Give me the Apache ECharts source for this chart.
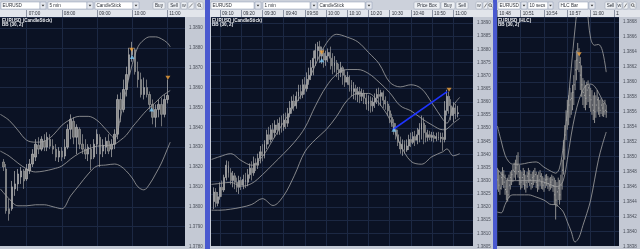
<!DOCTYPE html>
<html><head><meta charset="utf-8">
<script src="https://cdn.jsdelivr.net/npm/echarts@6/dist/echarts.min.js"></script>
<style>html,body{margin:0;padding:0;background:#c9ced8;overflow:hidden}#c{width:640px;height:249px}</style>
</head><body><div id="c"></div>
<script>
// ---------------- DATA (prices are given in pips above 1.3800) ----------------
const BASE = 1.38, PIP = 0.0001;

// tick labels of the three time axes
const leftTimeTicks  = ['07:00','08:00','09:00','10:00','11:00'];
const midTimeTicks   = ['09:10','09:20','09:30','09:40','09:50','10:00','10:10','10:20','10:30','10:40','10:50','11:00'];
const rightTimeTicks = ['10:48','10:51','10:54','10:57','11:00','11:03'];

// LEFT: EURUSD 5 min candlesticks, first bar 06:20
const leftFirstBar = '06:20', leftBarMinutes = 5;
const leftOpen  = [22.5,19,-1,-1,9,11.5,15,18,14,18,21.5,25,31,29,33,30,34,30.5,29,25,28,25.5,30,39,43,35,39,31.5,29,26.5,29,25,31.5,35,28,30,33,29,31.5,36.5,54,49,59,66.5,76.5,79,68,64,56.5,60,56.5,51.5,45,49,51.5,46.5,54];
const leftClose = [20,-2,-3.5,10,11.5,16.5,18,13,19,21.5,26.5,31.5,29,34,30,35,30.5,29,25,28,25,30,39,44,35,40,31.5,29,26.5,30,24,31.5,36.5,26.5,31,33,28,31.5,36.5,54,49,59,66.5,76.5,79,68,64,56.5,60,56.5,51.5,45,49,51.5,46.5,54,56];
const leftHigh  = [24,21.5,4,13,18,19,20,19,21.5,24,29,34,35,35.5,36.5,37.5,36.5,34,31.5,30,30,34,41.5,46.5,45,41.5,40,36.5,34,31.5,31.5,34,39,36.5,34,35,36.5,34,39,56.5,57.5,64,70.5,80,83,80,73,67.5,65,64,58,54,51.5,54,55,56.5,64];
const leftLow   = [18,-3.5,-7,-2,5.5,8,11.5,9,13,16.5,20,23,26.5,28,28,28,29,26.5,23,22.5,23,24,29,34,31.5,26.5,29,26.5,24,23,18.5,24,26.5,20,25,26.5,26.5,25,29,34,42.5,47.5,55.5,64,73,66.5,60,55,54,55,49,41.5,40,45,40.5,45,52];
const leftBandTimes = ['06:15','06:30','06:45','07:00','07:15','07:30','07:45','08:00','08:15','08:30','08:45','09:00','09:15','09:30','09:40','09:50','10:00','10:10','10:20','10:30','10:40','10:50','11:00','11:05'];
const leftUpper  = [46.5,43.5,38.5,33.5,32.5,33,36,41,44,45.5,45.5,43.5,39,34.5,45,59,71.5,80.5,84,85.5,85.5,84.5,82.5,80.5];
const leftMiddle = [28,25.5,22,19,17.5,18,19,20.5,24,27,29,30.5,30.8,31.5,33.5,36,40,43.5,47,50,52.5,55.5,57.5,58.5];
const leftLower  = [9,4,0.5,0.5,1,1,0,-1,5.5,11,16.5,20.5,21,21.5,20.5,18,14.5,10,8.5,11.5,16.5,22,29,32.5];
const leftSellMarks = [['09:59',79.0],['11:01',64.9]];
const leftBuyMarks  = [['10:00',75.4],['10:33',49.0]];

// MIDDLE: EURUSD 1 min candlesticks, first bar 09:07
const midFirstBar = '09:07', midBarMinutes = 1;
const midOpen  = [22.1,25.7,21.4,23.9,27.5,26.5,31.2,35.9,33.0,30.1,31.9,29.4,27.5,30.1,28.3,30.5,29.4,32.3,34.8,33.0,36.6,35.9,38.5,41.0,39.5,43.9,47.5,45.7,49.4,48.3,51.2,49.4,51.9,50.5,53.0,51.9,55.5,57.7,60.3,58.5,62.1,63.9,62.8,66.5,65.0,68.6,70.1,73.0,76.6,79.5,81.0,77.4,78.5,75.9,77.4,78.8,76.6,73.7,74.8,72.3,71.2,73.0,70.1,67.5,69.4,66.5,63.9,65.0,62.8,63.9,62.1,63.2,61.4,59.2,60.3,58.5,59.9,61.4,62.8,62.1,63.5,60.6,59.2,56.6,54.1,51.9,49.4,47.5,44.6,42.1,43.9,41.7,43.2,45.7,44.6,46.8,45.4,47.5,49.4,51.9,48.3,46.5,47.5,46.5,47.2,46.1,46.8,46.1,46.5,45.7,56.6,62.1,58.5,54.8,57.7,55.5];
const midClose = [25.7,21.4,23.9,27.5,26.5,31.2,35.9,33.0,30.1,31.9,29.4,27.5,30.1,28.3,30.5,29.4,32.3,34.8,33.0,36.6,35.9,38.5,41.0,39.5,43.9,47.5,45.7,49.4,48.3,51.2,49.4,51.9,50.5,53.0,51.9,55.5,57.7,60.3,58.5,62.1,63.9,62.8,66.5,65.0,68.6,70.1,73.0,76.6,79.5,81.0,77.4,78.5,75.9,77.4,78.8,76.6,73.7,74.8,72.3,71.2,73.0,70.1,67.5,69.4,66.5,63.9,65.0,62.8,63.9,62.1,63.2,61.4,59.2,60.3,58.5,59.9,61.4,62.8,62.1,63.5,60.6,59.2,56.6,54.1,51.9,49.4,47.5,44.6,42.1,43.9,41.7,43.2,45.7,44.6,46.8,45.4,47.5,49.4,51.9,48.3,46.5,47.5,46.5,47.2,46.1,46.8,46.1,46.5,45.7,56.6,62.1,58.5,54.8,57.7,55.5,55.9];
const midHigh  = [27.5,27.2,25.7,29.4,30.1,32.3,37.7,37.4,34.8,33.7,33.0,31.2,31.9,31.5,32.3,33.0,34.5,36.6,37.4,39.2,38.5,40.3,43.2,43.9,45.4,49.4,50.5,51.2,51.9,53.0,53.4,54.1,54.8,55.5,55.9,57.7,60.3,62.1,62.8,63.9,66.5,66.5,68.6,69.4,71.2,73.0,75.9,79.5,82.1,82.8,83.2,81.0,80.3,79.5,80.3,81.0,78.5,77.4,75.9,74.5,75.2,73.7,72.3,71.5,70.1,68.3,67.5,66.5,65.7,65.7,65.0,64.6,63.2,62.5,62.1,61.7,63.2,65.0,65.4,64.6,64.3,62.1,60.3,58.5,55.5,53.4,51.9,49.4,46.8,45.7,45.4,45.7,47.5,48.3,48.6,49.0,50.1,51.9,54.8,54.1,51.2,49.4,49.0,48.6,48.6,48.3,48.6,48.3,48.3,60.3,64.6,63.9,61.0,59.9,59.2,58.5];
const midLow   = [19.2,19.9,20.3,22.8,23.9,25.7,30.1,31.2,28.6,27.5,26.8,25.7,25.0,26.5,26.8,27.2,27.9,30.8,30.1,31.9,33.7,34.5,36.6,37.4,38.5,42.1,43.9,44.6,45.7,46.5,47.5,47.5,48.3,49.0,49.7,50.5,54.1,55.5,56.6,57.4,60.3,61.0,61.4,62.8,63.9,66.5,68.3,70.1,73.7,75.9,74.8,74.5,73.0,73.7,75.2,72.3,70.5,71.2,69.4,68.3,69.4,66.5,65.7,66.5,63.9,62.1,61.0,60.6,59.9,59.5,60.3,59.2,57.0,56.6,55.9,56.3,57.7,59.2,58.5,58.5,57.7,57.0,54.8,51.9,50.5,47.5,45.7,43.2,40.3,39.5,40.3,41.0,41.7,42.8,43.9,43.2,43.9,44.6,45.7,43.9,44.6,45.0,45.4,45.0,44.6,45.0,45.4,44.6,41.4,44.6,54.8,55.5,53.0,52.3,53.4,54.1];
const midBandTimes = ['09:06','09:10','09:15','09:20','09:25','09:30','09:35','09:40','09:45','09:50','09:55','10:00','10:05','10:10','10:15','10:20','10:25','10:30','10:35','10:40','10:45','10:50','10:55','10:57','11:00','11:03'];
const midUpper  = [38.1,39.2,40.3,37.7,35.9,39.2,45.7,52.3,58.5,65.0,74.1,82.1,85.7,84.6,82.8,78.8,74.5,67.5,65.7,66.5,65.0,59.5,53.4,51.9,58.5,61.7];
const midMiddle = [28.6,29.0,29.4,27.9,29.0,32.3,36.3,40.3,44.6,50.1,58.5,65.7,70.5,72.3,72.3,70.8,67.5,63.5,58.5,56.6,53.7,51.2,49.4,49.7,51.9,53.7];
const midLower  = [18.8,18.8,19.2,19.9,21.0,23.2,20.6,24.3,31.9,41.0,45.7,49.4,54.5,60.6,63.2,63.2,59.5,53.4,43.9,37.4,36.3,39.2,41.0,42.1,39.5,40.3];
const midSellMarks = [['09:58',78.8],['10:58',64.6]];
const midBuyMarks  = [['09:58',75.8],['10:32',49.4]];
const midTrendLine = [['10:31:24',49.4],['10:57:06',63.9]];

// RIGHT: EURUSD 10 secs HLC bars, first bar 10:48:00
const rightFirstBar = '10:48:00', rightBarSeconds = 10;
const rightHigh  = [48.5,48.2,47.6,48.0,48.6,48.2,47.6,46.9,47.2,47.6,48.0,48.2,48.9,49.2,49.6,50.2,50.6,48.9,48.2,48.0,48.5,48.2,47.6,48.0,48.5,48.2,47.7,48.0,48.2,48.5,48.0,47.6,48.0,48.2,47.8,47.4,47.2,47.6,47.7,47.4,47.2,47.3,47.6,47.4,47.2,46.9,46.6,47.2,46.9,47.6,49.6,52.2,54.2,56.2,57.6,58.2,59.2,58.6,59.6,60.9,62.9,64.2,65.2,64.5,63.3,62.2,60.5,60.2,59.6,60.0,60.2,59.6,59.2,58.9,58.2,58.6,58.2,58.9,58.0,57.6,57.8,57.6,57.2,57.6,56.9];
const rightLow   = [45.6,45.3,44.9,45.6,46.2,45.8,44.9,44.2,44.0,44.5,45.6,46.2,46.6,47.2,46.9,47.6,47.2,46.2,45.6,45.8,46.2,45.6,45.2,45.8,46.5,46.1,45.6,45.8,46.2,46.5,45.8,45.3,45.6,46.1,45.7,45.6,45.3,45.8,46.1,45.7,45.4,45.6,45.8,45.3,43.6,41.6,43.3,44.2,43.6,44.2,45.6,47.6,49.6,52.2,53.6,54.2,55.2,55.6,56.2,56.9,58.9,60.2,61.6,61.3,58.9,58.0,56.9,56.5,56.2,56.9,57.3,56.5,56.0,55.6,54.9,54.5,55.2,56.0,55.6,55.3,55.7,55.4,55.3,55.6,55.2];
const rightClose = [46.9,46.2,45.8,47.2,47.6,46.6,45.6,45.3,44.9,46.2,47.2,47.6,48.2,48.0,48.5,48.9,48.0,47.2,46.6,47.2,47.6,46.2,46.6,47.4,47.7,46.9,46.4,47.2,47.4,47.6,46.6,46.2,46.9,47.4,46.5,46.2,46.5,46.9,47.0,46.4,46.1,46.6,46.9,46.1,44.9,44.2,45.3,45.8,44.9,46.2,48.2,50.9,52.9,54.9,56.0,56.9,57.6,57.8,58.6,59.6,61.6,62.9,63.6,62.6,60.9,59.6,58.6,58.2,57.8,58.9,59.2,58.2,57.6,56.9,56.2,56.0,56.9,57.6,56.5,56.2,56.9,56.5,56.0,56.2,56.0];
const rightBandTimes = ['10:48:00','10:48:30','10:49:00','10:49:30','10:50:00','10:51:00','10:52:00','10:53:00','10:54:00','10:55:00','10:55:30','10:56:00','10:56:30','10:57:00','10:57:30','10:58:00','10:58:30','10:59:00','10:59:30','11:00:00','11:00:30','11:01:00','11:01:30','11:02:00'];
const rightUpper  = [54.1,52.1,50.2,49.3,49.0,49.0,49.2,49.3,48.6,48.0,47.8,48.5,51.6,56.2,61.8,67.2,71.6,73.6,70.2,65.8,64.9,65.0,64.2,61.3];
const rightMiddle = [48.4,47.7,47.2,46.8,46.8,46.8,46.8,46.8,46.6,46.2,46.0,46.1,46.9,49.6,52.9,55.6,57.6,58.9,59.6,59.7,59.4,58.6,57.6,56.9];
const rightLower  = [42.6,42.5,43.6,44.6,44.9,44.9,44.9,44.6,44.2,43.6,43.6,43.2,42.6,41.3,40.0,38.6,39.2,40.8,42.4,44.2,46.9,49.6,51.6,53.3];
const rightSellMarks = [['10:58:32',63.7]];

const lastPrice = 56; // 1.3856

// ---------------- helpers ----------------
const FONT = '"Liberation Sans", Arial, sans-serif';
const PLOT_BG = '#0b1224', GRID_LINE = '#1c2843', BAND = '#a3a3a3';
const P = p => Math.round((BASE + p * PIP) * 1e6) / 1e6;
function toMin(s){const a=s.split(':').map(Number);return a[0]*60+a[1]+(a[2]||0)/60;}
function fmtTime(m){const h=Math.floor(m/60+1e-6);const mm=Math.round(m-h*60);return String(h).padStart(2,'0')+':'+String(mm).padStart(2,'0');}
function barTimes(first, stepMin, n){const t0=toMin(first);return Array.from({length:n},(_,i)=>t0+i*stepMin);}
const pts = (times, vals) => times.map((t,i)=>[toMin(t), P(vals[i])]);
const marks = arr => arr.map(d=>[toMin(d[0]), P(d[1])]);

// panel layout (pixels) and axis scales
const panels = [
  {gl:0,   gw:185, top:17, h:231, t0:'07:00', x0:26.7,  pxPerMin:35.15/60, yMin:1.378,  yStep:0.001,  pxPerPip:2,    ticks:leftTimeTicks},
  {gl:211, gw:262, top:17, h:240, t0:'09:10', x0:220,   pxPerMin:2.121,    yMin:1.3805, yStep:0.0005, pxPerPip:2.75, ticks:midTimeTicks},
  {gl:497, gw:122, top:17, h:230, t0:'10:48', x0:497.3, pxPerMin:7.78,     yMin:1.3838, yStep:0.0002, pxPerPip:7.5,  ticks:rightTimeTicks}
];
panels.forEach(p=>{
  p.xMin = toMin(p.t0) - (p.x0 - p.gl)/p.pxPerMin;
  p.xMax = p.xMin + p.gw/p.pxPerMin;
  p.yMax = p.yMin + p.h/p.pxPerPip*PIP;
});

const grids = panels.map(p=>({left:p.gl, top:p.top, width:p.gw, height:p.h, show:true, backgroundColor:PLOT_BG, borderWidth:0}));
const xAxes = panels.map((p,i)=>{
  const tv = p.ticks.map(toMin);
  return {gridIndex:i, type:'value', position:'top', min:p.xMin, max:p.xMax,
    axisLine:{show:false},
    axisTick:{show:true, customValues:tv, length:7, lineStyle:{color:'#8b92a2', width:1}},
    axisLabel:{customValues:tv, formatter:fmtTime, color:'#2e323b', fontSize:4.6, fontFamily:FONT, align:'left', verticalAlign:'middle', margin:3.5, padding:[0,0,0,2]},
    splitLine:{show:true, lineStyle:{color:GRID_LINE, width:1}}};
});
const yAxes = panels.map((p,i)=>({gridIndex:i, type:'value', position:'right', min:p.yMin, max:p.yMax, interval:p.yStep,
  axisLine:{show:false}, axisTick:{show:false},
  axisLabel:{formatter:v=>v.toFixed(4), color:'#4b505b', fontSize:4.5, fontFamily:FONT, margin:4, showMaxLabel:false},
  splitLine:{show:true, lineStyle:{color:GRID_LINE, width:1}}}));

const lastLine = {silent:true, symbol:'none', animation:false, data:[{yAxis:P(lastPrice)}],
  lineStyle:{color:'#e4e4e4', type:[2,2], width:1},
  label:{show:true, position:'end', distance:1, formatter:P(lastPrice).toFixed(4), color:'#262a33', fontSize:4.5, fontFamily:FONT,
    backgroundColor:'#a2aabd', borderColor:'#7c859e', borderWidth:0.5, padding:[1,3,0.5,3]}};

const candleStyle = {color:'#8a8a8a', color0:'#6c6c6c', borderColor:'#b8b8b8', borderColor0:'#9c9c9c', borderWidth:0.7};
function bandSeries(idx, times, vals, withMark){
  const s = {type:'line', xAxisIndex:idx, yAxisIndex:idx, data:pts(times, vals), symbol:'none', showSymbol:false, smooth:0.35,
    lineStyle:{color:BAND, width:0.8}, z:4, silent:true};
  if (withMark) s.markLine = lastLine;
  return s;
}
function markSeries(idx, data, sell){
  return {type:'scatter', xAxisIndex:idx, yAxisIndex:idx, data:marks(data), symbol:'triangle', symbolRotate: sell?180:0,
    symbolSize:[5,4], itemStyle:{color: sell?'#f2a23a':'#7cc8f4'}, z:7, silent:true};
}

const leftT = barTimes(leftFirstBar, leftBarMinutes, leftOpen.length);
const midT  = barTimes(midFirstBar, midBarMinutes, midOpen.length);
const rightT = barTimes(rightFirstBar, rightBarSeconds/60, rightHigh.length);

const series = [
  {type:'candlestick', xAxisIndex:0, yAxisIndex:0, barWidth:2, itemStyle:candleStyle, z:3,
   data:leftT.map((t,i)=>[t, P(leftOpen[i]), P(leftClose[i]), P(leftLow[i]), P(leftHigh[i])])},
  bandSeries(0, leftBandTimes, leftUpper), bandSeries(0, leftBandTimes, leftMiddle, true), bandSeries(0, leftBandTimes, leftLower),
  markSeries(0, leftSellMarks, true), markSeries(0, leftBuyMarks, false),

  {type:'candlestick', xAxisIndex:1, yAxisIndex:1, barWidth:1.4, itemStyle:candleStyle, z:3,
   data:midT.map((t,i)=>[t, P(midOpen[i]), P(midClose[i]), P(midLow[i]), P(midHigh[i])])},
  bandSeries(1, midBandTimes, midUpper), bandSeries(1, midBandTimes, midMiddle, true), bandSeries(1, midBandTimes, midLower),
  {type:'line', xAxisIndex:1, yAxisIndex:1, data:marks(midTrendLine), symbol:'none', lineStyle:{color:'#1e34ff', width:1.6}, z:6, silent:true},
  markSeries(1, midSellMarks, true), markSeries(1, midBuyMarks, false),

  {type:'custom', xAxisIndex:2, yAxisIndex:2, z:3, clip:true, silent:true,
   data:rightT.map((t,k)=>[t, P(rightHigh[k]), P(rightLow[k]), P(rightClose[k])]),
   encode:{x:0, y:[1,2,3]},
   renderItem:(params, api)=>{
     const t = api.value(0);
     const hi = api.coord([t, api.value(1)]), lo = api.coord([t, api.value(2)]), c = api.coord([t, api.value(3)]);
     return {type:'group', children:[
       {type:'line', shape:{x1:hi[0], y1:hi[1], x2:lo[0], y2:lo[1]}, style:{stroke:'#8e8e8e', lineWidth:1}},
       {type:'line', shape:{x1:c[0], y1:c[1], x2:c[0]+1, y2:c[1]}, style:{stroke:'#b4b4b4', lineWidth:1}}
     ]};
   }},
  bandSeries(2, rightBandTimes, rightUpper), bandSeries(2, rightBandTimes, rightMiddle, true), bandSeries(2, rightBandTimes, rightLower),
  markSeries(2, rightSellMarks, true)
];

// ---------------- window chrome (toolbar, header, strips) ----------------
const TB_FONT = `4.6px ${FONT}`;
const toolbarWidgets = [
  ['combo',1,39,'EURUSD'],['arrow',40,6],['combo',48,39,'5 min'],['arrow',87,6],['combo',95,38,'CandleStick'],['arrow',133,6],
  ['btn',153,12,'Buy'],['btn',168,12,'Sell'],['icon',181,6,'W'],['icon',188,6,'/'],['icon',196,7,'mag'],
  ['combo',211,43,'EURUSD'],['arrow',255,6],['combo',263,47,'1 min'],['arrow',311,6],['combo',318,47,'CandleStick'],['arrow',366,6],
  ['btn',414,26,'Price Box'],['btn',441,14,'Buy'],['btn',456,12,'Sell'],['icon',476,6,'W'],['icon',483,5,'/'],['icon',488,5,'mag'],
  ['combo',498,22,'EURUSD'],['arrow',521,6],['combo',528,20,'10 secs'],['arrow',548,5],['combo',559,29,'HLC Bar'],['arrow',589,6],
  ['btn',605,11,'Sell'],['icon',617,5,'W'],['icon',623,5,'/'],['icon',630,6,'mag']
];
function txt(x,y,text,opt){
  opt = opt||{};
  return {type:'text', x, y, z:opt.z||20, zlevel:opt.zlevel||0, silent:true,
    style:{text, fill:opt.fill||'#2b2f38', font:opt.font||TB_FONT, align:opt.align||'left', textAlign:opt.align||'left', verticalAlign:'middle', textVerticalAlign:'middle'}};
}
const chrome = [
  {type:'rect', z:-100, silent:true, shape:{x:0,y:0,width:640,height:10}, style:{fill:'#ccd1db'}},
  {type:'rect', z:-100, silent:true, shape:{x:0,y:10,width:640,height:7}, style:{fill:'#e2e5eb'}},
  {type:'rect', z:-100, silent:true, shape:{x:185,y:17,width:20,height:232}, style:{fill:'#c4c9d4'}},
  {type:'rect', z:-100, silent:true, shape:{x:473,y:17,width:20,height:232}, style:{fill:'#c4c9d4'}},
  {type:'rect', z:-100, silent:true, shape:{x:619,y:17,width:21,height:232}, style:{fill:'#c4c9d4'}},
  {type:'rect', z:-90, silent:true, shape:{x:205,y:0,width:5,height:249}, style:{fill:'#4a59cf'}},
  {type:'rect', z:-90, silent:true, shape:{x:493,y:0,width:4,height:249}, style:{fill:'#4a59cf'}},
  // scrollbar strip along the bottom of each plot, and header cover right of the last plot
  {type:'rect', zlevel:1, silent:true, shape:{x:0,y:246,width:185,height:3}, style:{fill:'#c3c9d4'}},
  {type:'rect', zlevel:1, silent:true, shape:{x:211,y:246,width:262,height:3}, style:{fill:'#c3c9d4'}},
  {type:'rect', zlevel:1, silent:true, shape:{x:497,y:246,width:122,height:3}, style:{fill:'#c3c9d4'}},
  {type:'rect', zlevel:1, silent:true, shape:{x:619,y:10,width:21,height:7}, style:{fill:'#e2e5eb'}}
];
toolbarWidgets.forEach(([kind,x,w,label])=>{
  const y=2, h=7;
  if (kind==='combo'){
    chrome.push({type:'rect', z:10, silent:true, shape:{x,y,width:w,height:h}, style:{fill:'#ffffff', stroke:'#8e9bb3', lineWidth:0.5}});
    chrome.push(txt(x+1.5, y+h/2, label));
  } else if (kind==='arrow'){
    chrome.push({type:'rect', z:10, silent:true, shape:{x,y,width:w,height:h}, style:{fill:'#e6e9ef', stroke:'#8e9bb3', lineWidth:0.5}});
    chrome.push({type:'polygon', z:11, silent:true, shape:{points:[[x+w/2-1.4,y+h/2-0.7],[x+w/2+1.4,y+h/2-0.7],[x+w/2,y+h/2+0.9]]}, style:{fill:'#333'}});
  } else if (kind==='btn'){
    chrome.push({type:'rect', z:10, silent:true, shape:{x,y,width:w,height:h,r:1}, style:{fill:'#edf0f4', stroke:'#9ba3b3', lineWidth:0.5}});
    chrome.push(txt(x+w/2, y+h/2, label, {align:'center'}));
  } else {
    chrome.push({type:'rect', z:10, silent:true, shape:{x,y,width:w,height:h,r:1}, style:{fill:'#edf0f4', stroke:'#9ba3b3', lineWidth:0.5}});
    if (label==='mag'){
      chrome.push({type:'circle', z:11, silent:true, shape:{cx:x+w/2-0.4, cy:y+h/2-0.5, r:1.4}, style:{fill:'none', stroke:'#333', lineWidth:0.6}});
      chrome.push({type:'line', z:11, silent:true, shape:{x1:x+w/2+0.6,y1:y+h/2+0.5,x2:x+w/2+1.8,y2:y+h/2+1.8}, style:{stroke:'#333', lineWidth:0.7}});
    } else if (label==='/'){
      chrome.push({type:'line', z:11, silent:true, shape:{x1:x+1.2,y1:y+h-1.5,x2:x+w-1.2,y2:y+1.5}, style:{stroke:'#333', lineWidth:0.6}});
    } else {
      chrome.push(txt(x+w/2, y+h/2, label, {align:'center', font:`4px ${FONT}`}));
    }
  }
});
// chart titles inside the plots
const titleFont = `bold 4.6px ${FONT}`;
[[2,'EURUSD (CandleStick)'],[212,'EURUSD (CandleStick)'],[498,'EURUSD (HLC)']].forEach(([x,t])=>{
  chrome.push(txt(x, 20.6, t, {fill:'#eceef2', font:titleFont, z:50}));
  chrome.push(txt(x, 25, 'BB (30, 2)', {fill:'#eceef2', font:titleFont, z:50}));
});

const chart = echarts.init(document.getElementById('c'), null, {renderer:'canvas', width:640, height:249});
chart.setOption({
  animation:false,
  backgroundColor:'#c9ced8',
  grid:grids, xAxis:xAxes, yAxis:yAxes, series,
  graphic:{elements:chrome}
});
</script>
</body></html>
